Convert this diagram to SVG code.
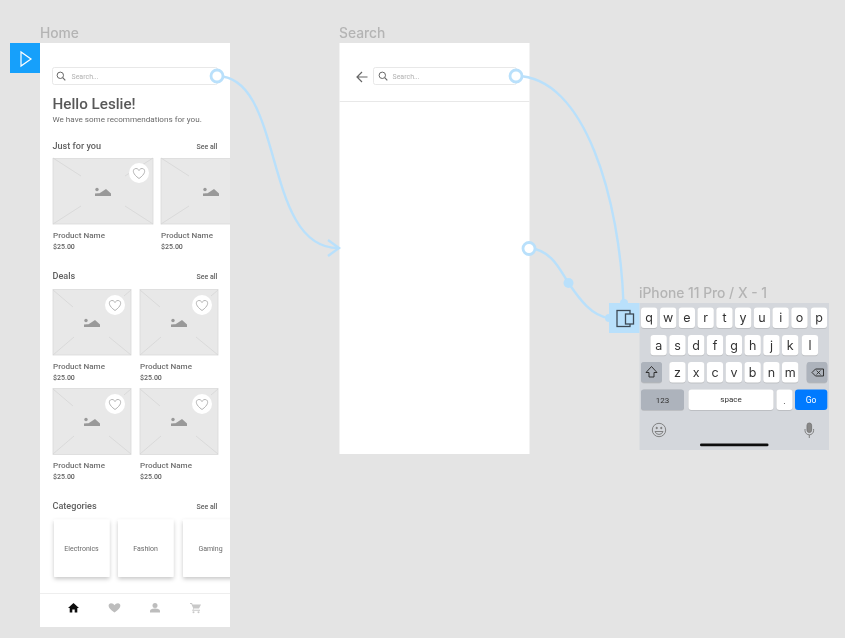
<svg xmlns="http://www.w3.org/2000/svg" width="845" height="638" viewBox="0 0 845 638">
<style>
text{font-family:Roboto,"Liberation Sans",sans-serif}
.frame{font-family:Inter,Roboto,sans-serif;font-size:13.800px;font-weight:500;fill:#b4b4b4}
.h{font-size:9.100px;font-weight:500;fill:#606060}
.see{font-size:7px;font-weight:500;fill:#606060}
.pn{font-size:8.100px;font-weight:500;fill:#707070}
.pr{font-size:7px;fill:#606060;font-weight:500}
.ph{font-size:7px;fill:#b0b0b0}
.cat{font-size:7px;fill:#6a6a6a;text-anchor:middle}
.k{fill:#fff;filter:url(#ks)}
.kd{fill:#adb3bc}
.kt{font-family:Inter,"Liberation Sans",sans-serif;font-size:12.500px;fill:#333;text-anchor:middle}
.wire{fill:none;stroke:#b9e0fb;stroke-width:2.400}
.port{fill:#fff;stroke:#b9e0fb;stroke-width:2.800}
.ln{stroke:#d6d6d6;stroke-width:.8;fill:none}
.srch{fill:#fff;stroke:#e2e2e2;stroke-width:.8}
</style>
<defs>
<filter id="soft" x="0" y="0" width="100%" height="100%"><feGaussianBlur stdDeviation=".3"/></filter>
<filter id="ks" x="-10%" y="-10%" width="120%" height="125%"><feDropShadow dx="0" dy=".5" stdDeviation=".3" flood-color="#888" flood-opacity=".6"/></filter>
<filter id="cs" x="-20%" y="-20%" width="140%" height="140%"><feDropShadow dx="0" dy="2" stdDeviation="2.200" flood-color="#000" flood-opacity=".22"/></filter>
<g id="mtn"><circle cx="-6" cy="-.5" r="1.700" fill="#999"/><path d="M-8 6V3.500q3-.6 4.500-.2L0 1 3 -1 8 3.500V6Z" fill="#999"/></g>
<g id="heart"><circle r="10" fill="#fff"/><path d="M0 5.500C-8 0-6-4.500-3-4.500-1.500-4.500-.5-3.500 0-2.500.5-3.500 1.500-4.500 3-4.500 6-4.500 8 0 0 5.500Z" fill="none" stroke="#aaa" stroke-width=".9"/></g>
<g id="glass"><circle cx="-.7" cy="-.7" r="3.200" fill="none" stroke="#666" stroke-width="1"/><path d="M1.700 1.700 4.300 4.300" stroke="#666" stroke-width="1.100"/></g>
<clipPath id="homeclip"><rect x="40" y="43" width="190" height="584"/></clipPath>
</defs>
<rect width="845" height="638" fill="#e4e4e4"/>
<g filter="url(#soft)">
<g id="home">
<text class="frame" x="40" y="38">Home</text>
<rect x="40" y="43" width="190" height="584" fill="#fff"/>
<g clip-path="url(#homeclip)">
<rect class="srch" x="52.500" y="67.500" width="165" height="17" rx="2"/>
<use href="#glass" x="61" y="76"/>
<text class="ph" x="71.500" y="78.500">Search...</text>
<text x="52.500" y="108.500" font-size="15.200" font-weight="500" fill="#585858">Hello Leslie!</text>
<text x="52.500" y="122" font-size="8.100" fill="#6a6a6a">We have some recommendations for you.</text>
<text class="h" x="52.500" y="149">Just for you</text>
<text class="see" x="196.500" y="149">See all</text>

<g id="card-1"><rect x="53" y="158.500" width="100" height="65.500" fill="#e8e8e8" stroke="#dadada" stroke-width=".8"/><path class="ln" d="M53 158 81 176M53 224 81 206M153 224 125 206M153 158 125 176"/><use href="#mtn" x="103" y="190"/><use href="#heart" x="139" y="173"/></g>
<text class="pn" x="53" y="237.500">Product Name</text><text class="pr" x="53" y="249">$25.00</text>
<g id="card-2"><rect x="161" y="158.500" width="100" height="65.500" fill="#e8e8e8" stroke="#dadada" stroke-width=".8"/><path class="ln" d="M161 158 189 176M161 224 189 206"/><use href="#mtn" x="211" y="190"/></g>
<text class="pn" x="161" y="237.500">Product Name</text><text class="pr" x="161" y="249">$25.00</text>

<text class="h" x="52.500" y="279">Deals</text>
<text class="see" x="196.500" y="279">See all</text>
<g id="card-3"><rect x="53" y="289.500" width="78" height="65.500" fill="#e8e8e8" stroke="#dadada" stroke-width=".8"/><path class="ln" d="M53 290 73 307M53 355 74 337M131 355 109 337M131 290 124 296"/><use href="#mtn" x="92" y="321"/><use href="#heart" x="115" y="305"/></g>
<text class="pn" x="53" y="368.500">Product Name</text><text class="pr" x="53" y="379.500">$25.00</text>
<g id="card-4"><rect x="140" y="289.500" width="78" height="65.500" fill="#e8e8e8" stroke="#dadada" stroke-width=".8"/><path class="ln" d="M140 290 160 307M140 355 161 337M218 355 196 337M218 290 211 296"/><use href="#mtn" x="179" y="321"/><use href="#heart" x="202" y="305"/></g>
<text class="pn" x="140" y="368.500">Product Name</text><text class="pr" x="140" y="379.500">$25.00</text>
<g id="card-5"><rect x="53" y="388.500" width="78" height="66" fill="#e8e8e8" stroke="#dadada" stroke-width=".8"/><path class="ln" d="M53 389 73 406M53 454 74 436M131 454 109 436M131 389 124 395"/><use href="#mtn" x="92" y="420"/><use href="#heart" x="115" y="404"/></g>
<text class="pn" x="53" y="468">Product Name</text><text class="pr" x="53" y="479">$25.00</text>
<g id="card-6"><rect x="140" y="388.500" width="78" height="66" fill="#e8e8e8" stroke="#dadada" stroke-width=".8"/><path class="ln" d="M140 389 160 406M140 454 161 436M218 454 196 436M218 389 211 395"/><use href="#mtn" x="179" y="420"/><use href="#heart" x="202" y="404"/></g>
<text class="pn" x="140" y="468">Product Name</text><text class="pr" x="140" y="479">$25.00</text>

<text class="h" x="52.500" y="509">Categories</text>
<text class="see" x="196.500" y="509">See all</text>
<g id="cat-electronics"><rect x="54" y="519.500" width="55.500" height="57.500" rx="1" fill="#fff" filter="url(#cs)"/><text class="cat" x="81.500" y="551">Electronics</text></g>
<g id="cat-fashion"><rect x="118" y="519.500" width="55.500" height="57.500" rx="1" fill="#fff" filter="url(#cs)"/><text class="cat" x="145.500" y="551">Fashion</text></g>
<g id="cat-gaming"><rect x="183" y="519.500" width="55.500" height="57.500" rx="1" fill="#fff" filter="url(#cs)"/><text class="cat" x="210.500" y="551">Gaming</text></g>
</g>
<path d="M40 593.500H230" stroke="#eee" stroke-width="1"/>
<path id="ic-home" d="M73.500 603 68 608h1.700v4.500h2.600v-3h2.400v3h2.600V608H79Z" fill="#111"/>
<path id="ic-heart" d="M114.500 612.500C106 607 108.500 603.200 111 603.200c1.600 0 2.800.9 3.500 2 .7-1.100 1.900-2 3.500-2 2.500 0 5 3.800-3.500 9.300Z" fill="#bdbdbd"/>
<g id="ic-user" fill="#bdbdbd"><circle cx="155" cy="605.500" r="2.500"/><path d="M150 612.500v-1.500c0-1.800 3-2.500 5-2.500s5 .7 5 2.500v1.500Z"/></g>
<g id="ic-cart" fill="#c8c8c8"><path d="M190 603h2l.6 1.400H201l-2 4.100h-5l-.7 1.200H200v1h-8l1.300-2.300-2-4.400H190Z"/><circle cx="193.500" cy="612.300" r="1"/><circle cx="198.500" cy="612.300" r="1"/></g>
</g>

<g id="start">
<rect x="10" y="43" width="30" height="30" fill="#18a0fb"/>
<path d="M21 52V66L31 59Z" fill="none" stroke="#fff" stroke-width="1.200"/>
</g>

<g id="search">
<text class="frame" x="339" y="38">Search</text>
<rect x="339.500" y="43" width="190" height="411" fill="#fff"/>
<path d="M339.500 101.500H529.500" stroke="#e8e8e8" stroke-width="1"/>
<path d="M367.500 77H357M362 72l-5 5 5 5" fill="none" stroke="#666" stroke-width="1.200"/>
<rect class="srch" x="373.500" y="67.500" width="143" height="17" rx="2"/>
<use href="#glass" x="383" y="76"/>
<text class="ph" x="392.500" y="78.500">Search...</text>
</g>

<g id="keyboard">
<text class="frame" x="639" y="298">iPhone 11 Pro / X - 1</text>
<rect x="639.500" y="303" width="189.500" height="147" fill="#d4d7dc"/>
<g id="row1">
<rect class="k" x="641" y="307.500" width="16.300" height="20.500" rx="3"/><rect class="k" x="660" y="307.500" width="16.300" height="20.500" rx="3"/><rect class="k" x="678.700" y="307.500" width="16.300" height="20.500" rx="3"/><rect class="k" x="697.500" y="307.500" width="16.300" height="20.500" rx="3"/><rect class="k" x="716.300" y="307.500" width="16.300" height="20.500" rx="3"/><rect class="k" x="735" y="307.500" width="16.300" height="20.500" rx="3"/><rect class="k" x="753.800" y="307.500" width="16.300" height="20.500" rx="3"/><rect class="k" x="772.500" y="307.500" width="16.300" height="20.500" rx="3"/><rect class="k" x="791.300" y="307.500" width="16.300" height="20.500" rx="3"/><rect class="k" x="810.800" y="307.500" width="16.300" height="20.500" rx="3"/>
<text class="kt" x="649" y="322">q</text><text class="kt" x="668" y="322">w</text><text class="kt" x="687" y="322">e</text><text class="kt" x="705.700" y="322">r</text><text class="kt" x="724.500" y="322">t</text><text class="kt" x="743" y="322">y</text><text class="kt" x="762" y="322">u</text><text class="kt" x="780.700" y="322">i</text><text class="kt" x="799.500" y="322">o</text><text class="kt" x="819" y="322">p</text>
</g>
<g id="row2">
<rect class="k" x="650.500" y="335" width="16.300" height="20.300" rx="3"/><rect class="k" x="669.300" y="335" width="16.300" height="20.300" rx="3"/><rect class="k" x="688" y="335" width="16.300" height="20.300" rx="3"/><rect class="k" x="706.800" y="335" width="16.300" height="20.300" rx="3"/><rect class="k" x="725.700" y="335" width="16.300" height="20.300" rx="3"/><rect class="k" x="744.500" y="335" width="16.300" height="20.300" rx="3"/><rect class="k" x="763.300" y="335" width="16.300" height="20.300" rx="3"/><rect class="k" x="782" y="335" width="16.300" height="20.300" rx="3"/><rect class="k" x="801.800" y="335" width="16.300" height="20.300" rx="3"/>
<text class="kt" x="658.700" y="349.500">a</text><text class="kt" x="677.500" y="349.500">s</text><text class="kt" x="696.200" y="349.500">d</text><text class="kt" x="715" y="349.500">f</text><text class="kt" x="734" y="349.500">g</text><text class="kt" x="752.700" y="349.500">h</text><text class="kt" x="771.500" y="349.500">j</text><text class="kt" x="790.200" y="349.500">k</text><text class="kt" x="810" y="349.500">l</text>
</g>
<g id="row3">
<rect class="kd" x="641" y="362" width="21" height="20.500" rx="3" filter="url(#ks)"/>
<path d="M651.500 366.500 646 372.500h3v4.500h5v-4.500h3Z" fill="none" stroke="#222" stroke-width=".9"/>
<rect class="k" x="669.300" y="362" width="16.300" height="20.500" rx="3"/><rect class="k" x="688" y="362" width="16.300" height="20.500" rx="3"/><rect class="k" x="706.800" y="362" width="16.300" height="20.500" rx="3"/><rect class="k" x="725.700" y="362" width="16.300" height="20.500" rx="3"/><rect class="k" x="744.500" y="362" width="16.300" height="20.500" rx="3"/><rect class="k" x="763.300" y="362" width="16.300" height="20.500" rx="3"/><rect class="k" x="782" y="362" width="16.300" height="20.500" rx="3"/>
<text class="kt" x="677.500" y="376.500">z</text><text class="kt" x="696.200" y="376.500">x</text><text class="kt" x="715" y="376.500">c</text><text class="kt" x="734" y="376.500">v</text><text class="kt" x="752.700" y="376.500">b</text><text class="kt" x="771.500" y="376.500">n</text><text class="kt" x="790.200" y="376.500">m</text>
<rect class="kd" x="806.700" y="362" width="20.600" height="20.500" rx="3" filter="url(#ks)"/>
<path d="M812 372.500l3.500-3.500h8v7h-8Z" fill="none" stroke="#222" stroke-width=".9"/><path d="M816.500 370.500l4 4M820.500 370.500l-4 4" stroke="#222" stroke-width=".8"/>
</g>
<g id="row4">
<rect class="kd" x="641" y="389.500" width="43" height="20.500" rx="3" filter="url(#ks)"/>
<text x="662.500" y="402.500" font-size="8" fill="#333" text-anchor="middle" font-family="Inter,sans-serif">123</text>
<rect class="k" x="688.500" y="389.500" width="85" height="20.500" rx="3"/>
<text x="731" y="401.500" font-size="8" fill="#333" text-anchor="middle" font-family="Inter,sans-serif">space</text>
<rect class="k" x="776.500" y="389.500" width="16" height="20.500" rx="3"/>
<text x="784.500" y="403.500" font-size="9" fill="#222" text-anchor="middle" font-family="Inter,sans-serif">.</text>
<rect x="795" y="389.500" width="32.300" height="20.500" rx="3" fill="#007aff"/>
<text x="811" y="402.500" font-size="8.500" fill="#fff" text-anchor="middle" font-family="Inter,sans-serif">Go</text>
</g>
<g id="emoji" fill="none" stroke="#777" stroke-width=".9">
<circle cx="659" cy="430" r="6.700"/><path d="M655 431.500a4.200 4.200 0 0 0 8 0Z"/><circle cx="656.700" cy="428" r=".7" fill="#777"/><circle cx="661.300" cy="428" r=".7" fill="#777"/>
</g>
<g id="mic" fill="none" stroke="#777" stroke-width=".9">
<rect x="807" y="423" width="4.600" height="9.500" rx="2.300" fill="#888"/><path d="M805 429v1.500a4.300 4.300 0 0 0 8.600 0V429M809.300 435v3"/>
</g>
<rect x="700" y="443.500" width="68.500" height="2.700" rx="1.300" fill="#111"/>
</g>

<g id="connectors">
<path class="wire" d="M217 76C285 76 262 248 338 248"/>
<path class="wire" d="M328 240 339 248 328 256"/>
<path class="wire" d="M516 76C585 76 620 200 623.500 304"/>
<path class="wire" d="M529 248C552 250 560 270 568.500 283 580 300 592 316 609 318"/>
<circle cx="568.500" cy="283" r="5" fill="#b9e0fb"/>
<circle class="port" cx="217" cy="76" r="6"/>
<circle class="port" cx="516" cy="76" r="6"/>
<circle class="port" cx="529" cy="248.500" r="6"/>
</g>

<g id="target-port">
<circle cx="624" cy="303" r="4" fill="#b9e0fb"/>
<circle cx="609" cy="318" r="4" fill="#b9e0fb"/>
<rect x="609" y="303" width="30.500" height="30" fill="#b9e0fb"/>
<rect x="617" y="310.500" width="13" height="16" fill="none" stroke="#3d4a55" stroke-width="1.300"/>
<rect x="625.500" y="314" width="8" height="10" fill="#b9e0fb" stroke="#3d4a55" stroke-width="1.300"/>
</g>
</g>
</svg>
